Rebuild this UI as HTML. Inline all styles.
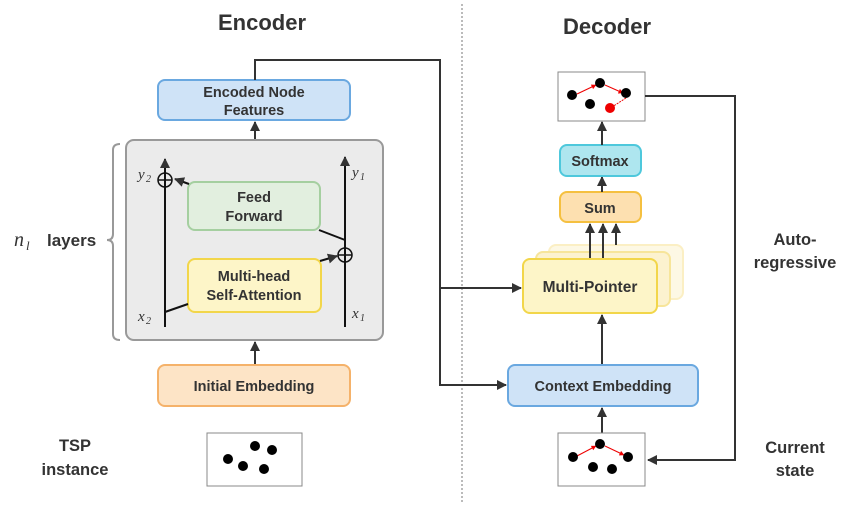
<!DOCTYPE html>
<html><head><meta charset="utf-8"><style>
body{margin:0;background:#fff}
text{font-family:"Liberation Sans","DejaVu Sans",sans-serif;font-weight:bold;fill:#333}
.m{font-family:"Liberation Serif",serif;font-style:italic;font-weight:normal;fill:#333}
</style></head><body>
<svg width="866" height="506" viewBox="0 0 866 506" xmlns="http://www.w3.org/2000/svg">
<defs>
<marker id="a" viewBox="0 0 10 10" refX="9" refY="5" markerWidth="5" markerHeight="5" orient="auto"><path d="M0,0L10,5L0,10z" fill="#333"/></marker>
<marker id="r" viewBox="0 0 10 10" refX="9" refY="5" markerWidth="5" markerHeight="5" orient="auto"><path d="M0,0L10,5L0,10z" fill="#e00"/></marker>
</defs>
<text x="262" y="30" font-size="22" text-anchor="middle">Encoder</text>
<text x="607" y="34" font-size="22" text-anchor="middle">Decoder</text>
<line x1="462" y1="4" x2="462" y2="502" stroke="#777" stroke-dasharray="2,2"/>

<!-- encoder -->
<rect x="158" y="80" width="192" height="40" rx="7" fill="#cfe3f7" stroke="#6aa8e0" stroke-width="2"/>
<text x="254" y="97" font-size="14.5" text-anchor="middle">Encoded Node</text>
<text x="254" y="115" font-size="14.5" text-anchor="middle">Features</text>
<line x1="255" y1="140" x2="255" y2="122" stroke="#333" stroke-width="2" marker-end="url(#a)"/>
<rect x="126" y="140" width="257" height="200" rx="8" fill="#ebebeb" stroke="#999" stroke-width="2"/>
<path d="M120,144 Q113,144 113,150 L113,234 Q113,240 107,240 Q113,240 113,246 L113,334 Q113,340 120,340" fill="none" stroke="#999" stroke-width="2"/>
<text x="14" y="246" font-size="20" class="m">n</text><text x="26" y="250" font-size="13" class="m">l</text>
<text x="47" y="246" font-size="17">layers</text>

<rect x="188" y="182" width="132" height="48" rx="7" fill="#e2efdf" stroke="#a5cfa0" stroke-width="2"/>
<text x="254" y="202" font-size="14.5" text-anchor="middle">Feed</text>
<text x="254" y="221" font-size="14.5" text-anchor="middle">Forward</text>
<rect x="188" y="259" width="133" height="53" rx="7" fill="#fdf5c8" stroke="#f2d64a" stroke-width="2"/>
<text x="254" y="281" font-size="14.5" text-anchor="middle">Multi-head</text>
<text x="254" y="300" font-size="14.5" text-anchor="middle">Self-Attention</text>

<line x1="165" y1="327" x2="165" y2="159" stroke="#111" stroke-width="2" marker-end="url(#a)"/>
<circle cx="165" cy="180" r="7" fill="none" stroke="#111" stroke-width="1.5"/>
<line x1="158" y1="180" x2="172" y2="180" stroke="#111" stroke-width="1.5"/>
<line x1="345" y1="327" x2="345" y2="157" stroke="#111" stroke-width="2" marker-end="url(#a)"/>
<circle cx="345" cy="255" r="7" fill="none" stroke="#111" stroke-width="1.5"/>
<line x1="338" y1="255" x2="352" y2="255" stroke="#111" stroke-width="1.5"/>
<line x1="165" y1="312" x2="188" y2="304" stroke="#111" stroke-width="2"/>
<line x1="320" y1="261" x2="337" y2="256" stroke="#111" stroke-width="2" marker-end="url(#a)"/>
<line x1="319" y1="230" x2="345" y2="240" stroke="#111" stroke-width="2"/>
<line x1="189" y1="184" x2="175" y2="179" stroke="#111" stroke-width="2" marker-end="url(#a)"/>
<text x="138" y="179" font-size="15" class="m">y</text><text x="146" y="182" font-size="10" class="m">2</text>
<text x="352" y="177" font-size="15" class="m">y</text><text x="360" y="180" font-size="10" class="m">1</text>
<text x="138" y="321" font-size="15" class="m">x</text><text x="146" y="324" font-size="10" class="m">2</text>
<text x="352" y="318" font-size="15" class="m">x</text><text x="360" y="321" font-size="10" class="m">1</text>

<line x1="255" y1="365" x2="255" y2="342" stroke="#333" stroke-width="2" marker-end="url(#a)"/>
<rect x="158" y="365" width="192" height="41" rx="7" fill="#fde4c6" stroke="#f5b26a" stroke-width="2"/>
<text x="254" y="391" font-size="14.5" text-anchor="middle">Initial Embedding</text>
<rect x="207" y="433" width="95" height="53" fill="#fff" stroke="#888"/>
<g fill="#000"><circle cx="228" cy="459" r="5"/><circle cx="255" cy="446" r="5"/><circle cx="272" cy="450" r="5"/><circle cx="243" cy="466" r="5"/><circle cx="264" cy="469" r="5"/></g>
<text x="75" y="451" font-size="16.5" text-anchor="middle">TSP</text>
<text x="75" y="475" font-size="16.5" text-anchor="middle">instance</text>

<!-- connector -->
<path d="M255,80 L255,60 L440,60 L440,385 L506,385" fill="none" stroke="#333" stroke-width="2" marker-end="url(#a)"/>
<path d="M440,288 L521,288" fill="none" stroke="#333" stroke-width="2" marker-end="url(#a)"/>

<!-- decoder -->
<rect x="549" y="245" width="134" height="54" rx="7" fill="#fdf8e4" stroke="#fbefc4" stroke-width="2"/>
<rect x="536" y="252" width="134" height="54" rx="7" fill="#fcf2cf" stroke="#f7e59a" stroke-width="2"/>
<rect x="523" y="259" width="134" height="54" rx="7" fill="#fdf5c8" stroke="#f2d64a" stroke-width="2"/>
<text x="590" y="292" font-size="15.5" text-anchor="middle">Multi-Pointer</text>
<line x1="590" y1="258" x2="590" y2="224" stroke="#333" stroke-width="2" marker-end="url(#a)"/>
<line x1="603" y1="258" x2="603" y2="224" stroke="#333" stroke-width="2" marker-end="url(#a)"/>
<line x1="616" y1="245" x2="616" y2="224" stroke="#333" stroke-width="2" marker-end="url(#a)"/>
<rect x="560" y="192" width="81" height="30" rx="7" fill="#fde0b0" stroke="#f5c040" stroke-width="2"/>
<text x="600" y="213" font-size="14.5" text-anchor="middle">Sum</text>
<line x1="602" y1="192" x2="602" y2="177" stroke="#333" stroke-width="2" marker-end="url(#a)"/>
<rect x="560" y="145" width="81" height="31" rx="7" fill="#aee6ef" stroke="#4ec8dc" stroke-width="2"/>
<text x="600" y="166" font-size="14.5" text-anchor="middle">Softmax</text>
<line x1="602" y1="145" x2="602" y2="122" stroke="#333" stroke-width="2" marker-end="url(#a)"/>
<rect x="558" y="72" width="87" height="49" fill="#fff" stroke="#888"/>
<line x1="577" y1="94" x2="596" y2="85" stroke="#e00" stroke-width="1" marker-end="url(#r)"/>
<line x1="605" y1="85" x2="623" y2="93" stroke="#e00" stroke-width="1" marker-end="url(#r)"/>
<line x1="626" y1="98" x2="612" y2="107" stroke="#e00" stroke-width="1" stroke-dasharray="2,1"/>
<g fill="#000"><circle cx="572" cy="95" r="5"/><circle cx="600" cy="83" r="5"/><circle cx="626" cy="93" r="5"/><circle cx="590" cy="104" r="5"/></g>
<circle cx="610" cy="108" r="5" fill="#e00"/>

<line x1="602" y1="365" x2="602" y2="315" stroke="#333" stroke-width="2" marker-end="url(#a)"/>
<rect x="508" y="365" width="190" height="41" rx="7" fill="#cfe3f7" stroke="#6aa8e0" stroke-width="2"/>
<text x="603" y="391" font-size="14.5" text-anchor="middle">Context Embedding</text>
<line x1="602" y1="433" x2="602" y2="408" stroke="#333" stroke-width="2" marker-end="url(#a)"/>
<rect x="558" y="433" width="87" height="53" fill="#fff" stroke="#888"/>
<line x1="577" y1="456" x2="596" y2="446" stroke="#e00" stroke-width="1" marker-end="url(#r)"/>
<line x1="605" y1="446" x2="624" y2="455" stroke="#e00" stroke-width="1" marker-end="url(#r)"/>
<g fill="#000"><circle cx="573" cy="457" r="5"/><circle cx="600" cy="444" r="5"/><circle cx="628" cy="457" r="5"/><circle cx="593" cy="467" r="5"/><circle cx="612" cy="469" r="5"/></g>

<path d="M645,96 L735,96 L735,460 L648,460" fill="none" stroke="#333" stroke-width="2" marker-end="url(#a)"/>
<text x="795" y="245" font-size="16.5" text-anchor="middle">Auto-</text>
<text x="795" y="268" font-size="16.5" text-anchor="middle">regressive</text>
<text x="795" y="453" font-size="16.5" text-anchor="middle">Current</text>
<text x="795" y="476" font-size="16.5" text-anchor="middle">state</text>
</svg>
</body></html>
